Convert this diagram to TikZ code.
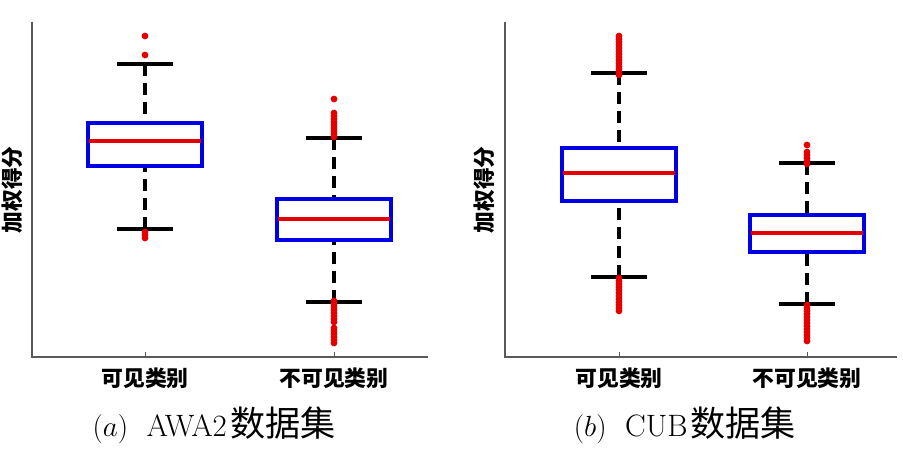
\documentclass[tikz,border=0pt]{standalone}
\usepackage{amsmath}
\usepackage{fontspec}
\newfontfamily\cjk{Noto Sans CJK SC}
\begin{document}
\begin{tikzpicture}[x=0.025cm, y=-0.025cm,
  axisline/.style = {draw=black!65, line width=1pt},
  boxline/.style = {draw=blue!90!black, line width=2.2pt},
  medianline/.style = {draw=red!90!black, line width=2.6pt},
  whisker/.style = {draw=black, line width=2.6pt, dash pattern=on 8.5pt off 5pt},
  capline/.style = {draw=black, line width=2.8pt},
  outlier/.style = {fill=red!90!black},
  ticklabel/.style = {font=\cjk\bfseries\fontsize{15.5}{18}\selectfont, inner sep=0pt},
  captext/.style = {font=\fontsize{22}{26}\selectfont, inner sep=0pt}]
  \useasboundingbox (0,0) rectangle (903,465);
  % axes
  \foreach \ax/\ex/\ta/\tb in {32/428/145/334, 505/897/619/807} {
    \draw[axisline] (\ax,22) -- (\ax,357) -- (\ex,357);
    \draw[axisline, line width=0.6pt] (\ta,352) -- (\ta,357);
    \draw[axisline, line width=0.6pt] (\tb,352) -- (\tb,357);
  }
  % boxes: centre / cap top / box top / median / box bottom / cap bottom
  \foreach \cx/\ct/\bt/\md/\bb/\cb in {145/64/123/141/166/229, 334/138/199/219/240/302,
                                      619/73/148/173/201/277, 807/163/215/233/252/304} {
    \draw[whisker] (\cx,\ct) -- (\cx,\bt);
    \draw[whisker] (\cx,\cb) -- (\cx,\bb);
    \draw[capline] (\cx-28,\ct) -- (\cx+28,\ct);
    \draw[capline] (\cx-28,\cb) -- (\cx+28,\cb);
    \draw[boxline] (\cx-57,\bt) rectangle (\cx+57,\bb);
    \draw[medianline] (\cx-56,\md) -- (\cx+56,\md);
  }
  % outliers
  \foreach \cx/\oy in {145/36, 145/55, 145/232, 145/235, 145/238, 334/99, 807/145} {
    \fill[outlier] (\cx,\oy) circle (2.4pt);
  }
  \foreach \oy in {113,116,...,137} { \fill[outlier] (334,\oy) circle (2.4pt); }
  \foreach \oy in {301,304,...,322,328,331,...,343} { \fill[outlier] (334,\oy) circle (2.4pt); }
  \foreach \oy in {36,39,...,75} { \fill[outlier] (619,\oy) circle (2.4pt); }
  \foreach \oy in {278,281,...,313} { \fill[outlier] (619,\oy) circle (2.4pt); }
  \foreach \oy in {152,155,...,166} { \fill[outlier] (807,\oy) circle (2.4pt); }
  \foreach \oy in {305,308,...,341} { \fill[outlier] (807,\oy) circle (2.4pt); }
  % labels
  \node[ticklabel, rotate=90] (scoreA) at (12,190) {加权得分};
  \node[ticklabel, rotate=90] (scoreB) at (484,190) {加权得分};
  \node[ticklabel] (seenA) at (145,378) {可见类别};
  \node[ticklabel] (unseenA) at (334,378) {不可见类别};
  \node[ticklabel] (seenB) at (619,378) {可见类别};
  \node[ticklabel] (unseenB) at (807,378) {不可见类别};
  \node[captext] (capA) at (214,425) {$(a)$\hspace{0.6em}AWA2\hspace{0.1em}{\cjk\fontsize{25}{28}\selectfont 数据集}};
  \node[captext] (capB) at (685,425) {$(b)$\hspace{0.6em}CUB\hspace{0.1em}{\cjk\fontsize{25}{28}\selectfont 数据集}};
\end{tikzpicture}
\end{document}
